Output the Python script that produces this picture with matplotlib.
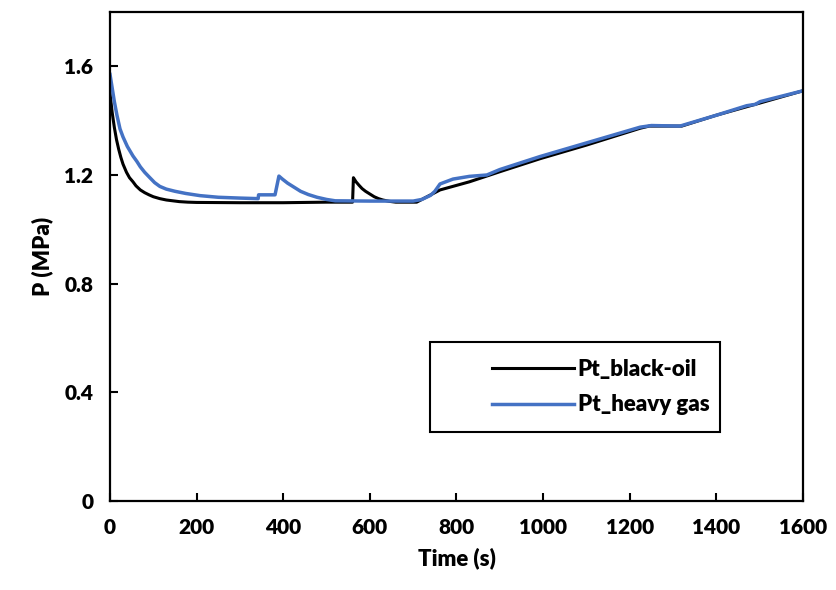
import matplotlib.pyplot as plt
from matplotlib.patches import Rectangle

plt.rcParams['font.family'] = ['Lato', 'DejaVu Sans']
plt.rcParams['font.weight'] = 'bold'

# black-oil pressure vs time
t_black = [0, 5, 10, 15, 20, 25, 30, 38, 45, 53, 60, 70, 80, 90, 100, 115, 130,
           145, 160, 180, 200, 300, 400, 500, 560, 562, 568, 575, 582, 590, 600,
           610, 620, 630, 645, 660, 708, 762, 830, 900, 993, 1100, 1224, 1245,
           1320, 1400, 1501, 1600]
p_black = [1.50, 1.43, 1.375, 1.33, 1.295, 1.265, 1.24, 1.21, 1.19, 1.175, 1.16,
           1.145, 1.135, 1.127, 1.12, 1.113, 1.108, 1.105, 1.102, 1.10, 1.099,
           1.098, 1.098, 1.100, 1.100, 1.19, 1.175, 1.162, 1.15, 1.14, 1.13,
           1.12, 1.113, 1.108, 1.103, 1.10, 1.10, 1.145, 1.175, 1.212, 1.26,
           1.31, 1.372, 1.38, 1.38, 1.42, 1.465, 1.51]

# heavy gas pressure vs time
t_gas = [0, 5, 10, 16, 23, 30, 40, 53, 62, 70, 80, 92, 103, 115, 130, 150, 175,
         208, 250, 300, 342, 343, 381, 390, 398, 410, 425, 440, 458, 478, 500,
         520, 600, 700, 720, 740, 750, 762, 792, 830, 870, 900, 993, 1147, 1224,
         1250, 1316, 1400, 1470, 1490, 1501, 1600]
p_gas = [1.57, 1.52, 1.47, 1.42, 1.37, 1.34, 1.305, 1.27, 1.25, 1.23, 1.21, 1.19,
         1.172, 1.158, 1.148, 1.14, 1.132, 1.124, 1.118, 1.115, 1.113, 1.127,
         1.127, 1.196, 1.185, 1.17, 1.155, 1.14, 1.128, 1.118, 1.11, 1.105,
         1.104, 1.104, 1.11, 1.125, 1.14, 1.167, 1.185, 1.195, 1.20, 1.22, 1.268,
         1.34, 1.376, 1.382, 1.38, 1.42, 1.455, 1.46, 1.47, 1.51]

x_ticks = [0, 200, 400, 600, 800, 1000, 1200, 1400, 1600]
y_ticks = [0, 0.4, 0.8, 1.2, 1.6]
y_tick_labels = ['0', '0.4', '0.8', '1.2', '1.6']

fig = plt.figure(figsize=(8.36, 5.9), dpi=100)
ax = fig.add_axes([0.1316, 0.1508, 0.8289, 0.8289])

ax.plot(t_black, p_black, color='black', lw=2.2, label='Pt_black-oil')
ax.plot(t_gas, p_gas, color='#4472C4', lw=2.5, label='Pt_heavy gas')

ax.set_xlim(0, 1600)
ax.set_ylim(0, 1.8)
ax.set_xticks(x_ticks)
ax.set_yticks(y_ticks)
ax.set_yticklabels(y_tick_labels)
ax.tick_params(direction='in', length=6, width=1.5, labelsize=15, pad=12)
for lab in ax.get_xticklabels() + ax.get_yticklabels():
    lab.set_fontweight('heavy')
for s in ax.spines.values():
    s.set_linewidth(1.6)

ax.set_xlabel('Time (s)', fontsize=16, fontweight='heavy', labelpad=8)
ax.set_ylabel('P (MPa)', fontsize=16, fontweight='heavy', labelpad=8)

# legend box drawn separately, entries right-aligned inside it
box = Rectangle((0.462, 0.141), 0.418, 0.184, transform=ax.transAxes,
                fill=False, edgecolor='black', lw=1.5, zorder=5)
ax.add_patch(box)
leg = ax.legend(loc='center right', bbox_to_anchor=(0.865, 0.233),
                frameon=False, handlelength=3.7, handletextpad=0.15,
                borderaxespad=0, borderpad=0, labelspacing=0.65,
                prop={'weight': 'heavy', 'size': 16})

fig.savefig('out.png', dpi=100)
